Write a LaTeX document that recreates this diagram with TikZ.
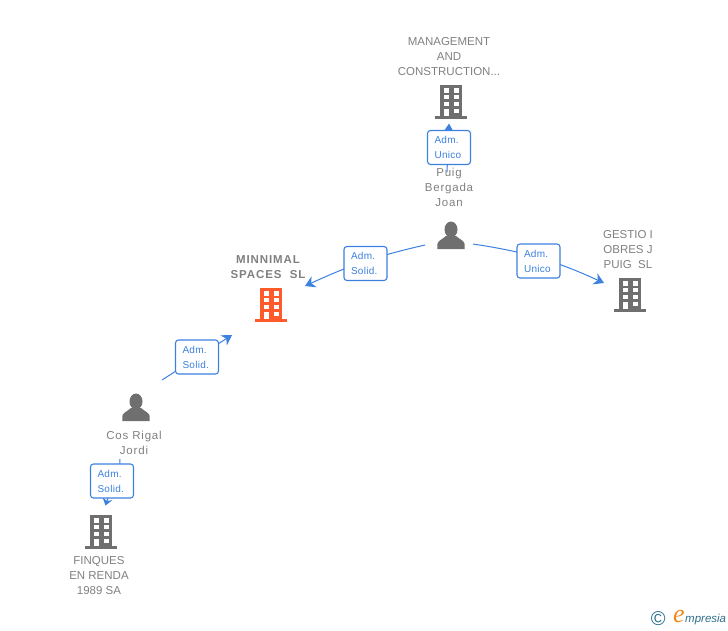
\documentclass[tikz,border=0pt]{standalone}
\usepackage{fontspec}
\setmainfont{Liberation Sans}
\newfontfamily\spacedbold[LetterSpace=8]{Liberation Sans}
\newfontfamily\spacedname[LetterSpace=7]{Liberation Sans}
\newfontfamily\spacedrole[LetterSpace=3]{Liberation Sans}
\newfontfamily\logoserif{Liberation Serif}
\usetikzlibrary{arrows.meta}
\definecolor{linkblue}{HTML}{3C80E0}
\definecolor{icongray}{HTML}{6F6F6F}
\definecolor{namegray}{HTML}{808080}
\definecolor{mainorange}{HTML}{FF5A2B}
\definecolor{logoteal}{HTML}{2E708C}
\definecolor{logoorange}{HTML}{F08A1D}
\tikzset{
  bldicon/.pic={
    \fill[pic actions] (-11,-17) rectangle (11,14);
    \fill[pic actions] (-16,14) rectangle (16,17);
    \foreach \wy in {-13.7,-7,0}{
      \fill[white] (-7.5,\wy) rectangle (-2.5,\wy+4.2);
      \fill[white] (2.5,\wy) rectangle (7.5,\wy+4.2);
    }
    \fill[white] (-7.5,6.7) rectangle (-2.5,14);
    \fill[white] (2.5,6.7) rectangle (7.5,10.7);
  },
  personicon/.pic={
    \fill[icongray] (0,-5.5) ellipse (6.5 and 8);
    \fill[icongray] (-13.7,14) -- (-13.7,9.5) .. controls (-13.7,6) and (-9,4.5) .. (-5,1)
      -- (5,1) .. controls (9,4.5) and (13.7,6) .. (13.7,9.5) -- (13.7,14) -- cycle;
  },
  iconspot/.style={inner sep=0pt, minimum size=1pt},
  namelabel/.style={align=center, text=namegray, font=\fontsize{11.5}{15}\selectfont, inner sep=0pt},
  personlabel/.style={align=center, text=namegray, font=\fontsize{11.5}{15}\selectfont\spacedname, inner sep=0pt},
  mainlabel/.style={align=center, text=namegray, font=\fontsize{11.5}{15}\selectfont\bfseries\spacedbold, inner sep=0pt},
  rolelabel/.style={draw=linkblue, fill=white, line width=1.1pt, rounded corners=3pt, text=linkblue,
    align=left, text width=29pt, minimum width=43pt, minimum height=34pt, inner sep=0pt,
    font=\fontsize{10}{15}\selectfont\spacedrole},
  linkline/.style={draw=linkblue, line width=1pt, -{Stealth[length=10pt,width=12pt]}},
}
\begin{document}
\begin{tikzpicture}[x=1pt,y=-1pt]
\useasboundingbox (0,0) rectangle (728,630);

\node[iconspot] (bid0) at (451,102){};
\node[iconspot] (pid0) at (451,235){};
\node[iconspot] (bid1) at (271,305){};
\node[iconspot] (bid2) at (630,295){};
\node[iconspot] (pid1) at (136,407){};
\node[iconspot] (bid3) at (101,532){};

\coordinate (from0) at (447,172);
\coordinate (to0) at (449,123.5);
\coordinate (from1) at (425,245);
\coordinate (to1) at (305,286);
\coordinate (from2) at (473,244);
\coordinate (to2) at (604,283);
\coordinate (from3) at (162,380);
\coordinate (to3) at (232,335);
\coordinate (from4) at (120,459);
\coordinate (to4) at (105.5,505.5);

\draw[linkline] (from0) -- (to0);
\draw[linkline] (from1) to[bend right=6] (to1);
\draw[linkline] (from2) to[bend left=8] (to2);
\draw[linkline] (from3) -- (to3);
\draw[linkline, -{Stealth[length=7pt,width=10pt]}] (from4) .. controls (120,480) and (108,497) .. (to4);

\pic[fill=icongray] at (bid0) {bldicon};
\pic at (pid0) {personicon};
\pic[fill=mainorange] at (bid1) {bldicon};
\pic[fill=icongray] at (bid2) {bldicon};
\pic at (pid1) {personicon};
\pic[fill=icongray] at (bid3) {bldicon};

\node[namelabel] (tid0) at (449,56.5) {MANAGEMENT\\AND\\CONSTRUCTION...};
\node[personlabel] (tid1) at (449,187.5) {Puig\\Bergada\\Joan};
\node[mainlabel] (tid2) at (268,267) {MINNIMAL\\SPACES\ \ SL};
\node[namelabel] (tid3) at (628,249.5) {GESTIO I\\OBRES J\\PUIG\ \ SL};
\node[personlabel] (tid4) at (134,442.5) {Cos Rigal\\Jordi};
\node[namelabel] (tid5) at (99,576) {FINQUES\\EN RENDA\\1989 SA};

\node[rolelabel] (lid0) at (449,147.5) {Adm.\\Unico};
\node[rolelabel] (lid1) at (365.5,263.5) {Adm.\\Solid.};
\node[rolelabel] (lid2) at (538.5,261) {Adm.\\Unico};
\node[rolelabel] (lid3) at (197,357) {Adm.\\Solid.};
\node[rolelabel] (lid4) at (112,481) {Adm.\\Solid.};

\node[text=logoteal, font=\fontsize{20}{20}\selectfont, inner sep=0pt] (cid0) at (658.3,619) {©};
\node[text=logoorange, font=\fontsize{26}{26}\selectfont\logoserif\itshape, inner sep=0pt, anchor=base] (cid1) at (679,622) {e};
\node[text=logoteal, font=\fontsize{11.5}{11.5}\selectfont\itshape, inner sep=0pt, anchor=base west] (cid2) at (685,622) {mpresia};
\end{tikzpicture}
\end{document}
